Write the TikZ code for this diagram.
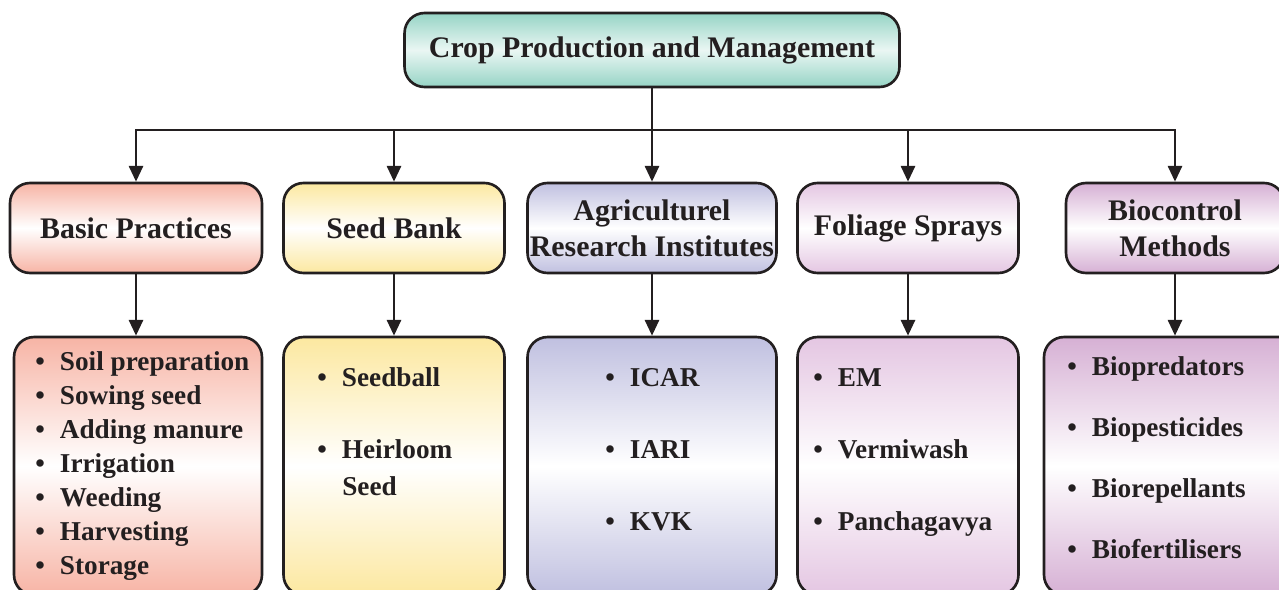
\documentclass[tikz,border=0pt]{standalone}
\usepackage{fontspec}
\setmainfont{Liberation Serif}
\usetikzlibrary{arrows.meta}

\definecolor{ink}{RGB}{35,31,32}
\definecolor{cropc}{RGB}{150,212,197}
\definecolor{basicc}{RGB}{247,180,165}
\definecolor{seedc}{RGB}{252,232,160}
\definecolor{agric}{RGB}{192,192,224}
\definecolor{foliac}{RGB}{228,198,226}
\definecolor{bioc}{RGB}{214,176,212}

\newcommand{\itm}[1]{\makebox[14pt][l]{\textbullet}#1}

\begin{document}
\begin{tikzpicture}[
  x=0.02cm, y=-0.02cm,
  box/.style={draw=ink, line width=1.5pt, rounded corners=0.4cm, inner sep=0pt,
    align=center, text=ink, font=\fontsize{17}{20.5}\selectfont\bfseries},
  tint/.style={top color=#1, bottom color=#1, middle color=white},
  head/.style={box, minimum height=1.8cm},
  list/.style={box, minimum height=5.16cm},
  item/.style={anchor=base west, inner sep=0pt, text=ink,
    font=\fontsize{15.5}{20}\selectfont\bfseries},
  link/.style={draw=ink, line width=1.5pt},
  arr/.style={link, -{Triangle[length=9pt,width=8pt]}}
]
  \useasboundingbox (0,0) rectangle (1279,589);
  \clip (0,0) rectangle (1279,589);

  \node[box, tint=cropc, middle color=cropc!20, minimum width=9.9cm, minimum height=1.48cm]
    (crop) at (652,50) {Crop Production and Management};
  \coordinate (bar) at (0,130);

  % second row
  \node[head, tint=basicc, minimum width=5.04cm] (h1) at (136,228) {Basic Practices};
  \node[head, tint=seedc, minimum width=4.42cm] (h2) at (394,228) {Seed Bank};
  \node[head, tint=agric, minimum width=4.98cm] (h3) at (652,228) {Agriculturel\\Research Institutes};
  \node[head, tint=foliac, minimum width=4.42cm] (h4) at (908,228) {Foliage Sprays};
  \node[head, tint=bioc, minimum width=4.36cm] (h5) at (1175,228) {Biocontrol\\Methods};

  % third row
  \node[list, tint=basicc, minimum width=4.96cm] (l1) at (138,466) {};
  \node[list, tint=seedc, minimum width=4.42cm] (l2) at (394,466) {};
  \node[list, tint=agric, minimum width=4.98cm] (l3) at (652,466) {};
  \node[list, tint=foliac, minimum width=4.42cm] (l4) at (908,466) {};
  \node[list, tint=bioc, minimum width=5.24cm] (l5) at (1175,466) {};

  \foreach \t [count=\k] in {Soil preparation, Sowing seed, Adding manure,
      Irrigation, Weeding, Harvesting, Storage}
    \node[item] (p\k) at (35,{336+34*\k}) {\itm{\t}};

  \node[item] (s1) at (317,386) {\itm{Seedball}};
  \node[item] (s2) at (317,458) {\itm{Heirloom}};
  \node[item] (s3) at (342,495) {Seed};

  \foreach \t [count=\k] in {ICAR, IARI, KVK}
    \node[item] (r\k) at (605,{314+72*\k}) {\itm{\t}};

  \foreach \t [count=\k] in {EM, Vermiwash, Panchagavya}
    \node[item] (f\k) at (813,{314+72*\k}) {\itm{\t}};

  \foreach \t [count=\k] in {Biopredators, Biopesticides, Biorepellants, Biofertilisers}
    \node[item] (b\k) at (1067,{314+61*\k}) {\itm{\t}};

  % connectors
  \draw[link] (crop) -- (crop |- bar);
  \draw[link, line cap=rect] (h1.north |- bar) -- (h5.north |- bar);
  \foreach \i in {1,...,5} {
    \draw[arr] (h\i.north |- bar) -- (h\i);
    \draw[arr] (h\i) -- (h\i |- l\i.north);
  }
\end{tikzpicture}
\end{document}
